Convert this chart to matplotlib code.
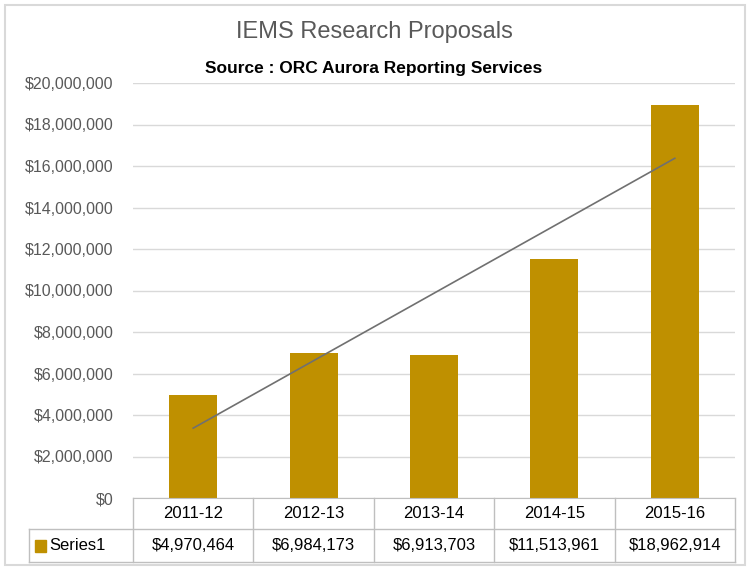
#!/usr/bin/env python3
"""
IEMS research proposals bar chart with linear trendline and data table
"""

import numpy as np
import matplotlib
matplotlib.use("Agg")
import matplotlib.pyplot as plt
from matplotlib.patches import Rectangle
from matplotlib.ticker import FuncFormatter

years = ["2011-12", "2012-13", "2013-14", "2014-15", "2015-16"]
amounts = [4970464, 6984173, 6913703, 11513961, 18962914]
series_name = "Series1"
title = "IEMS Research Proposals"
subtitle = "Source : ORC Aurora Reporting Services"

GOLD = "#BF9000"
GREY = "#595959"
LINE = "#BFBFBF"


def main():
    plt.rcParams["font.family"] = ["Liberation Sans", "DejaVu Sans"]
    fig = plt.figure(figsize=(7.48, 5.70), dpi=100)
    ax = fig.add_axes([133 / 748, 1 - 498 / 570, 602 / 748, 415 / 570])

    x = np.arange(len(years))
    ax.bar(x, amounts, width=0.4, color=GOLD, zorder=2)

    # linear trendline
    k, b = np.polyfit(x, amounts, 1)
    ax.plot(x, k * x + b, color="#707070", lw=1.2, zorder=3)

    ax.set_xlim(-0.5, len(years) - 0.5)
    ax.set_ylim(0, 20000000)
    ax.set_yticks(np.arange(0, 20000001, 2000000))
    ax.yaxis.set_major_formatter(FuncFormatter(lambda v, p: "${:,.0f}".format(v)))
    ax.tick_params(axis="y", length=0, labelsize=11.5, labelcolor=GREY, pad=14)
    ax.set_xticks([])
    ax.grid(axis="y", color="#D9D9D9", lw=1, zorder=0)
    for s in ("left", "right", "top"):
        ax.spines[s].set_visible(False)
    ax.spines["bottom"].set_color(LINE)

    # data table under the axis
    tr = ax.transAxes
    h1 = 31 / 415
    h2 = 64 / 415
    left = -104 / 602
    n = len(years)
    for i in range(n + 1):
        xx = i / n
        ax.plot([xx, xx], [0, -h2], color=LINE, lw=1, transform=tr, clip_on=False)
    ax.plot([left, left], [-h1, -h2], color=LINE, lw=1, transform=tr, clip_on=False)
    ax.plot([left, 1], [-h1, -h1], color=LINE, lw=1, transform=tr, clip_on=False)
    ax.plot([left, 1], [-h2, -h2], color=LINE, lw=1, transform=tr, clip_on=False)
    for i, (yr, v) in enumerate(zip(years, amounts)):
        xc = (i + 0.5) / n
        ax.text(xc, -h1 / 2, yr, transform=tr, ha="center", va="center",
                fontsize=12, color="black")
        ax.text(xc, -(h1 + h2) / 2, "${:,}".format(v), transform=tr,
                ha="center", va="center", fontsize=12, color="black")
    ax.add_patch(Rectangle((left + 6 / 602, -(h1 + h2) / 2 - 6 / 415), 11 / 602, 12 / 415,
                           transform=tr, color=GOLD, clip_on=False))
    ax.text(left + 20 / 602, -(h1 + h2) / 2, series_name, transform=tr,
            ha="left", va="center", fontsize=12, color="black")

    fig.text(0.5, 1 - 32 / 570, title, ha="center", va="center",
             fontsize=17, color=GREY)
    fig.text(0.5, 1 - 68 / 570, subtitle, ha="center", va="center",
             fontsize=12.5, fontweight="bold", color="black")

    fig.patches.append(Rectangle((5 / 748, 5 / 570), 740 / 748, 560 / 570,
                                 transform=fig.transFigure, fill=False,
                                 edgecolor="#D9D9D9", lw=1.5))
    fig.savefig("out.png", dpi=100)


if __name__ == "__main__":
    main()
